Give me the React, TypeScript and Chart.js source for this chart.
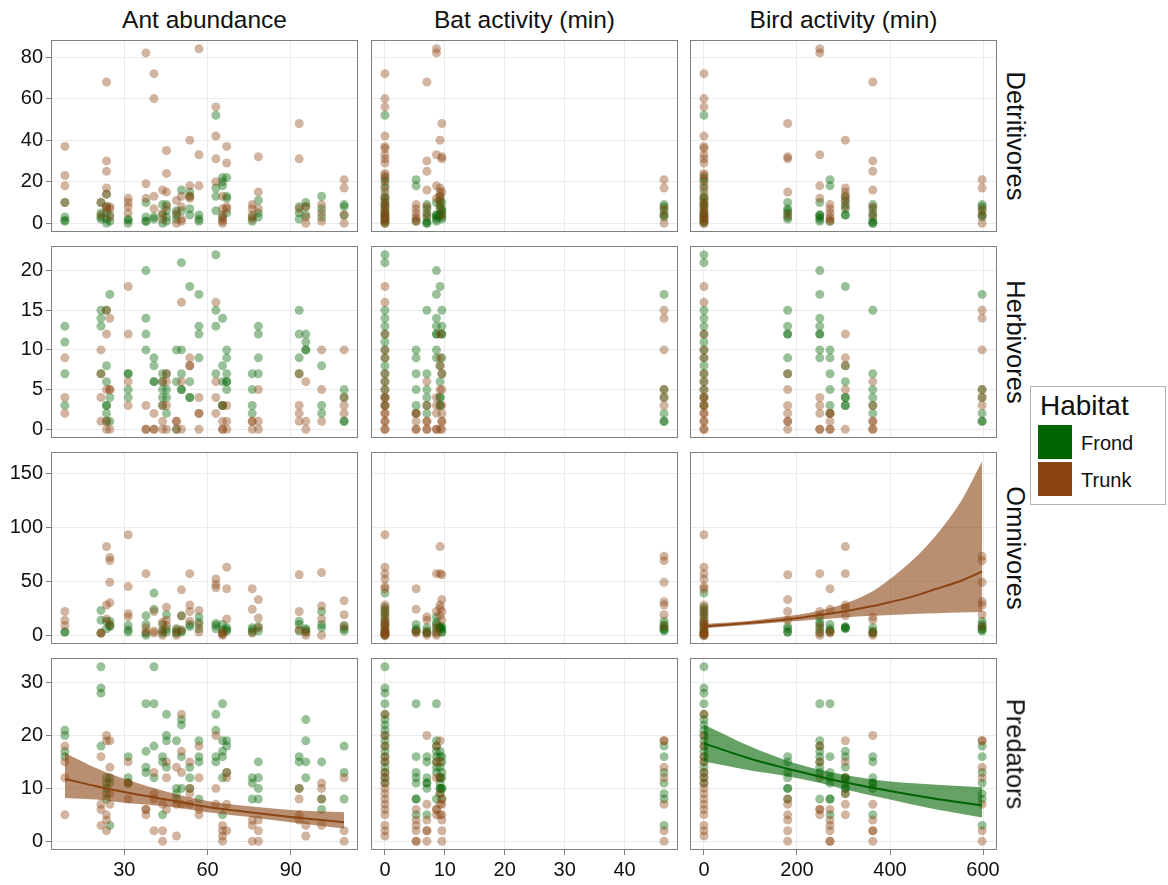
import React, { useEffect, useRef } from "react";
import { Chart, registerables } from "chart.js";

Chart.register(...registerables);

// ---------------- data ----------------
const columnTitles = ["Ant abundance", "Bat activity (min)", "Bird activity (min)"];
const rowTitles = ["Detritivores", "Herbivores", "Omnivores", "Predators"];
const habitats = ["Frond", "Trunk"];

// Ant abundance sites (x values)
const antSites = [8.6, 21.6, 23.6, 24.8, 31.4, 37.8, 40.7, 43.8, 45.2, 48.8, 50.6, 53.6, 56.9, 63.0, 65.4, 66.9, 76.1, 78.3, 93.0, 95.4, 101.1, 109.2];

const antDetFrond = [[10, 3, 1.5, 1], [10, 5, 3, 2], [14, 8, 5, 2, 0], [4, 1], [2, 1.5, 0], [10, 3, 1, 1], [3, 2], [9, 4, 0], [9, 6, 3, 1], [6, 4, 2], [16, 6], [15, 13, 7, 4], [4, 2, 1], [52, 17, 13, 6], [22, 20, 18, 3], [22, 13, 12, 5], [3, 1], [11, 5, 3], [8, 5, 2], [10, 8, 4], [13, 7, 3], [9, 8, 4]];
const antDetTrunk = [[37, 23, 18, 10], [10, 4], [68, 30, 25, 17, 14, 8, 7], [8, 7, 3], [12, 10, 8, 5], [82, 19, 12], [72, 60, 13, 7], [16, 5, 2], [35, 24, 15, 8], [11, 5, 0], [13, 8, 2, 1], [40, 18, 12, 13], [84, 33, 18], [56, 42, 31, 20], [13, 7, 4, 2, 1, 0], [37, 29, 8, 7], [9, 7, 4, 2], [32, 15, 7], [48, 31, 7], [8, 3, 0], [9, 5, 1], [21, 17, 0, 4]];

const antHerbFrond = [[13, 11, 7, 3], [15, 14, 13, 7], [15, 8, 6, 3, 3, 2, 1], [17, 4, 1], [7, 7, 5, 4], [20, 14, 12, 10], [9, 8, 6, 6], [7, 6, 5, 4, 3], [7, 5, 4, 2], [10, 6, 0], [21, 10, 7, 5, 5], [18, 6, 4, 4], [17, 13, 12, 9], [22, 15, 13, 7], [14, 8, 6, 3, 3], [10, 9, 7, 6, 6, 5], [7, 5, 3, 2], [13, 12, 9, 7], [15, 12, 9, 7], [12, 11, 10, 10], [8, 3, 2], [5, 4, 1, 1]];
const antHerbTrunk = [[9, 4, 2], [10, 7, 4, 1], [15, 12, 5, 1, 0], [14, 5, 5, 0], [18, 12, 6, 3], [3, 0, 0], [2, 0, 0], [6, 3, 1, 0], [7, 6, 3, 0], [1, 1, 0], [16, 6, 0], [9, 8, 8], [4, 2, 2, 0], [16, 6, 4, 2], [3, 1, 0, 0], [3, 1, 0], [1, 1, 0], [5, 1, 0], [7, 3, 2, 1], [6, 1, 0], [10, 5, 1], [10, 4, 3, 2]];

const antOmniFrond = [[3, 3], [23, 14, 2], [6, 13], [13, 9, 8], [9, 5, 3], [18, 10, 2, 0], [39, 24], [10, 4, 2], [19, 6, 3], [6, 3, 2], [18, 4, 3], [10, 8], [17, 12, 6], [11, 9, 6], [10, 5, 2], [7, 5, 4], [7, 5, 3], [8, 4], [13, 10, 4], [6, 5, 3], [22, 10, 7], [9, 6, 4]];
const antOmniTrunk = [[22, 14, 9], [2, 2], [82, 28, 15], [72, 69, 49, 30, 10], [93, 45, 20, 17], [57, 7, 3], [22, 4, 2], [12, 5, 0], [26, 14, 9], [5, 0], [42, 18, 5], [57, 28, 22, 13], [23, 10, 3], [52, 47, 44], [3, 1, 0], [63, 43, 15], [43, 24, 2], [33, 16, 7], [56, 22, 5], [3, 0], [58, 27, 15, 0], [32, 19, 8]];

const antPredFrond = [[21, 20, 17, 16], [33, 29, 28, 18], [12, 11, 10, 9, 8], [12, 11, 3], [16, 12, 11, 11], [26, 17, 14, 13], [33, 26, 18, 12], [16, 15, 5], [24, 20, 19, 14], [19, 10, 9, 8], [23, 22, 16, 10], [14, 12, 10], [19, 16, 15, 8], [24, 21, 16, 15], [26, 19, 17, 16, 12, 5], [19, 18, 13], [12, 11, 8], [15, 12, 10, 8], [16, 15, 10], [23, 19, 15, 12], [15, 8, 6], [18, 13, 8]];
const antPredTrunk = [[18, 15, 12, 5], [16, 7, 6, 3], [20, 19, 5, 4, 2], [19, 14, 9, 7], [15, 11, 8], [6, 6, 5], [13, 9, 8, 2], [7, 2, 0], [15, 12, 6], [14, 7, 1], [24, 17, 13, 7], [15, 10, 9, 7], [18, 12, 6, 5], [20, 10, 7], [3, 2, 1, 0], [13, 12, 7, 2], [4, 3, 0], [4, 2, 0], [10, 8, 5, 4], [3, 1], [11, 10, 8, 3], [12, 2, 0]];

// Bat / bird activity groups (same trees, two x variables)
const batGroups = [0, 5.2, 7.0, 8.6, 9.2, 9.5, 46.6];
const birdGroups = [0, 271, 363, 249, 304, 180, 598];

const actDetFrond = [[52, 22, 20, 17, 13, 12, 10, 9, 8, 6, 5, 4, 3, 2, 1, 0], [21, 18, 1], [9, 7, 5, 3, 1, 0, 0], [10, 4, 4, 3, 2, 1], [13, 11, 9, 7, 4, 4], [10, 7, 6, 5, 3, 2], [9, 8, 6, 4, 3]];
const actDetTrunk = [[72, 60, 56, 42, 37, 36, 33, 31, 29, 24, 23, 21, 18, 15, 12, 10, 8, 7, 5, 4, 3, 2, 1, 0], [9, 7, 5, 3, 2, 1], [68, 30, 25, 16, 8, 4], [84, 82, 33, 18, 12], [40, 17, 15, 13, 11, 8], [48, 32, 31, 15, 4], [21, 17, 7, 4, 0]];

const actHerbFrond = [[22, 21, 15, 14, 13, 12, 11, 10, 9, 8, 7, 6, 5, 4, 3], [10, 9, 7, 5, 3, 2], [15, 7, 5, 4, 3, 2], [20, 17, 14, 13, 12, 12, 10, 9], [18, 8, 6, 4, 4, 3, 3], [15, 13, 12, 12, 9, 7], [17, 5, 4, 2, 1, 1]];
const actHerbTrunk = [[18, 16, 12, 10, 9, 7, 6, 5, 4, 4, 3, 3, 2, 2, 1, 1, 0, 0], [2, 2, 1, 0, 0], [6, 3, 1, 1, 0, 0], [4, 3, 2, 0, 0], [12, 9, 8, 5, 0], [7, 5, 3, 2, 1, 1, 0], [15, 14, 10, 5, 4, 3]];

const actOmniFrond = [[39, 26, 23, 20, 17, 13, 10, 8, 5, 3, 2, 0], [10, 6, 4, 4], [7, 4, 2, 2], [17, 12, 10, 6, 3], [8, 7, 7, 6], [8, 6, 3, 3], [13, 10, 8, 6, 5, 4]];
const actOmniTrunk = [[93, 63, 57, 52, 45, 43, 28, 24, 20, 15, 12, 10, 8, 5, 3, 2, 1, 0, 0], [43, 24, 3, 2], [17, 14, 3, 0], [57, 22, 8, 2, 0], [82, 57, 28, 25, 18], [56, 33, 22, 14], [73, 69, 49, 31, 28, 19, 8]];

const actPredFrond = [[33, 29, 28, 26, 24, 23, 22, 21, 20, 19, 18, 17, 16, 15, 14, 13, 12, 11], [26, 16, 13, 12, 11, 8, 8, 5], [16, 15, 12, 11, 11, 10, 5], [26, 19, 18, 17, 16, 15, 14, 13, 8], [17, 16, 14, 12, 12, 11, 10, 10, 9], [16, 15, 13, 12, 10, 10, 8], [18, 16, 13, 11, 9, 8, 3]];
const actPredTrunk = [[24, 20, 18, 16, 15, 13, 12, 11, 10, 9, 8, 7, 6, 5, 3, 2, 1], [6, 4, 3, 2, 0, 0], [20, 7, 4, 2, 2, 0], [18, 15, 12, 6, 6, 5], [19, 15, 12, 9, 7, 5], [8, 7, 5, 4, 2, 0], [19, 19, 14, 12, 7, 2, 0]];

// Fitted curves
const antPredFitX = [8.6, 20, 30, 45, 60, 75, 90, 109.2];
const antPredFit = [11.8, 10.4, 9.3, 7.9, 6.5, 5.5, 4.6, 3.6];
const antPredUpper = [16.7, 13.8, 11.8, 9.4, 7.6, 6.6, 5.9, 5.5];
const antPredLower = [8.2, 7.9, 7.3, 6.6, 5.5, 4.6, 3.6, 2.4];

const birdOmniFitX = [0, 100, 180, 250, 300, 360, 400, 450, 500, 550, 598];
const birdOmniFit = [8.3, 11.5, 14.9, 18.8, 22, 26.8, 30.7, 36, 43, 50, 59];
const birdOmniUpper = [10.5, 13.5, 17.8, 23, 29, 40, 52, 70, 93, 122, 161];
const birdOmniLower = [6.5, 9.8, 12.4, 14.8, 16.5, 18, 18.8, 19.6, 20.3, 21, 21.6];

const birdPredFitX = [0, 100, 180, 250, 300, 400, 500, 598];
const birdPredFit = [18.5, 15.6, 13.7, 12.2, 11.2, 9.5, 8.0, 6.8];
const birdPredUpper = [22.1, 17.9, 15.2, 13.5, 12.6, 11.3, 10.7, 10.2];
const birdPredLower = [15.1, 13.4, 12.3, 11.0, 9.9, 7.9, 6.0, 4.5];

// axis ranges and tick labels
const xTicks = [[30, 60, 90], [0, 10, 20, 30, 40], [0, 200, 400, 600]];
const xRanges = [[3.6, 114.2], [-2.33, 48.93], [-30, 630]];
const yTicks = [[0, 20, 40, 60, 80], [0, 5, 10, 15, 20], [0, 50, 100, 150], [0, 10, 20, 30]];
const yRanges = [[-4.2, 88.2], [-1.1, 23.1], [-8.07, 169.5], [-1.65, 34.65]];

// ---------------- style / layout ----------------
const FONT = '"Liberation Sans", Arial, Helvetica, sans-serif';
const FROND = "rgb(0,100,0)";
const TRUNK = "rgb(139,69,19)";
const FROND_PT = "rgba(0,100,0,0.4)";
const TRUNK_PT = "rgba(139,69,19,0.4)";
const FROND_RIB = "rgba(0,100,0,0.6)";
const TRUNK_RIB = "rgba(139,69,19,0.6)";

const COL_LEFT = [51, 371, 690];
const ROW_TOP = [40, 246, 452, 658];
const PW = 307;
const PH = 192;

type Pt = { x: number; y: number };

function groupPoints(xs: number[], ys: number[][]): Pt[] {
  const out: Pt[] = [];
  xs.forEach((x, i) => ys[i].forEach((y) => out.push({ x, y })));
  return out;
}
function curve(xs: number[], ys: number[]): Pt[] {
  return xs.map((x, i) => ({ x, y: ys[i] }));
}

type Fit = { color: string; fill: string; line: Pt[]; upper: Pt[]; lower: Pt[] };

const borderPlugin = {
  id: "panelBorder",
  afterDraw(chart: any) {
    const { ctx, chartArea: a } = chart;
    ctx.save();
    ctx.strokeStyle = "#7f7f7f";
    ctx.lineWidth = 1;
    ctx.strokeRect(a.left + 0.5, a.top + 0.5, a.right - a.left - 1, a.bottom - a.top - 1);
    ctx.restore();
  },
};

function Panel(props: { col: number; row: number; frond: Pt[]; trunk: Pt[]; fit?: Fit }) {
  const { col, row, frond, trunk, fit } = props;
  const ref = useRef<HTMLCanvasElement>(null);
  const ML = col === 0 ? 51 : 0;
  const MB = row === 3 ? 35 : 0;
  const MR = row === 3 ? 24 : 0;
  const W = PW + ML + MR;
  const H = PH + MB;

  useEffect(() => {
    if (!ref.current) return;
    const datasets: any[] = [];
    if (fit) {
      datasets.push({
        type: "line", data: fit.upper, borderWidth: 0, borderColor: "rgba(0,0,0,0)",
        pointRadius: 0, fill: "+1", backgroundColor: fit.fill, order: 1,
        cubicInterpolationMode: "monotone",
      });
      datasets.push({
        type: "line", data: fit.lower, borderWidth: 0, borderColor: "rgba(0,0,0,0)",
        pointRadius: 0, fill: false, order: 2, cubicInterpolationMode: "monotone",
      });
      datasets.push({
        type: "line", data: fit.line, borderWidth: 2, borderColor: fit.color,
        pointRadius: 0, fill: false, order: 0, cubicInterpolationMode: "monotone",
      });
    }
    datasets.push({ label: habitats[0], data: frond, pointRadius: 4.5, backgroundColor: FROND_PT, borderWidth: 0, order: 6 });
    datasets.push({ label: habitats[1], data: trunk, pointRadius: 4.5, backgroundColor: TRUNK_PT, borderWidth: 0, order: 5 });

    const tickFont = { family: FONT, size: 20 };
    const chart = new Chart(ref.current, {
      type: "scatter",
      data: { datasets },
      plugins: [borderPlugin],
      options: {
        responsive: false,
        animation: false,
        devicePixelRatio: 1,
        events: [],
        layout: { autoPadding: false, padding: { left: 0, top: 0, right: MR, bottom: 0 } },
        plugins: { legend: { display: false }, tooltip: { enabled: false } },
        scales: {
          x: {
            type: "linear",
            position: "bottom",
            min: xRanges[col][0],
            max: xRanges[col][1],
            afterBuildTicks: (s: any) => { s.ticks = xTicks[col].map((v) => ({ value: v })); },
            afterFit: (s: any) => { s.height = MB; s.paddingLeft = 0; s.paddingRight = 0; },
            ticks: { display: row === 3, font: tickFont, color: "#111", padding: 3, maxRotation: 0, autoSkip: false, callback: (v: any) => String(v) },
            grid: { color: "#ebebeb", lineWidth: 1, drawTicks: row === 3, tickLength: 5, tickColor: "#7f7f7f" },
            border: { display: false },
          },
          y: {
            type: "linear",
            position: "left",
            min: yRanges[row][0],
            max: yRanges[row][1],
            afterBuildTicks: (s: any) => { s.ticks = yTicks[row].map((v) => ({ value: v })); },
            afterFit: (s: any) => { s.width = ML; s.paddingTop = 0; s.paddingBottom = 0; },
            ticks: { display: col === 0, font: tickFont, color: "#111", padding: 3, autoSkip: false, callback: (v: any) => String(v) },
            grid: { color: "#ebebeb", lineWidth: 1, drawTicks: col === 0, tickLength: 5, tickColor: "#7f7f7f" },
            border: { display: false },
          },
        },
      } as any,
    });
    return () => chart.destroy();
  }, []);

  return (
    <canvas
      ref={ref}
      width={W}
      height={H}
      style={{ position: "absolute", left: COL_LEFT[col] - ML, top: ROW_TOP[row], width: W, height: H, display: "block" }}
    />
  );
}

export default function App() {
  const antF = [antDetFrond, antHerbFrond, antOmniFrond, antPredFrond];
  const antT = [antDetTrunk, antHerbTrunk, antOmniTrunk, antPredTrunk];
  const actF = [actDetFrond, actHerbFrond, actOmniFrond, actPredFrond];
  const actT = [actDetTrunk, actHerbTrunk, actOmniTrunk, actPredTrunk];

  const fits: Record<string, Fit> = {
    "0-3": {
      color: TRUNK, fill: TRUNK_RIB,
      line: curve(antPredFitX, antPredFit), upper: curve(antPredFitX, antPredUpper), lower: curve(antPredFitX, antPredLower),
    },
    "2-2": {
      color: TRUNK, fill: TRUNK_RIB,
      line: curve(birdOmniFitX, birdOmniFit), upper: curve(birdOmniFitX, birdOmniUpper), lower: curve(birdOmniFitX, birdOmniLower),
    },
    "2-3": {
      color: FROND, fill: FROND_RIB,
      line: curve(birdPredFitX, birdPredFit), upper: curve(birdPredFitX, birdPredUpper), lower: curve(birdPredFitX, birdPredLower),
    },
  };

  const panels: any[] = [];
  for (let row = 0; row < 4; row++) {
    for (let col = 0; col < 3; col++) {
      let frond: Pt[];
      let trunk: Pt[];
      if (col === 0) {
        frond = groupPoints(antSites, antF[row]);
        trunk = groupPoints(antSites, antT[row]);
      } else {
        const xs = col === 1 ? batGroups : birdGroups;
        frond = groupPoints(xs, actF[row]);
        trunk = groupPoints(xs, actT[row]);
      }
      panels.push(
        <Panel key={`${col}-${row}`} col={col} row={row} frond={frond} trunk={trunk} fit={fits[`${col}-${row}`]} />
      );
    }
  }

  const textBase: React.CSSProperties = { position: "absolute", fontFamily: FONT, color: "#111", whiteSpace: "nowrap", lineHeight: 1 };

  return (
    <div style={{ position: "absolute", left: 0, top: 0, width: 1168, height: 885, background: "#fff", overflow: "hidden" }}>
      {panels}
      {columnTitles.map((t, i) => (
        <div key={t} style={{ ...textBase, fontSize: 24.5, left: COL_LEFT[i] + PW / 2, top: 20, transform: "translate(-50%,-50%)" }}>{t}</div>
      ))}
      {rowTitles.map((t, i) => (
        <div key={t} style={{ ...textBase, fontSize: 25.5, left: 1015, top: ROW_TOP[i] + PH / 2, transform: "translate(-50%,-50%) rotate(90deg)" }}>{t}</div>
      ))}
      <div style={{ position: "absolute", left: 1030, top: 386, width: 136, height: 119, border: "1px solid #b3b3b3", boxSizing: "border-box", background: "#fff" }}>
        <div style={{ ...textBase, fontSize: 28, left: 9, top: 5 }}>Habitat</div>
        <div style={{ position: "absolute", left: 7, top: 38, width: 34, height: 34, background: FROND }} />
        <div style={{ position: "absolute", left: 7, top: 75, width: 34, height: 34, background: TRUNK }} />
        <div style={{ ...textBase, fontSize: 20, left: 50, top: 46 }}>{habitats[0]}</div>
        <div style={{ ...textBase, fontSize: 20, left: 50, top: 83 }}>{habitats[1]}</div>
      </div>
    </div>
  );
}
